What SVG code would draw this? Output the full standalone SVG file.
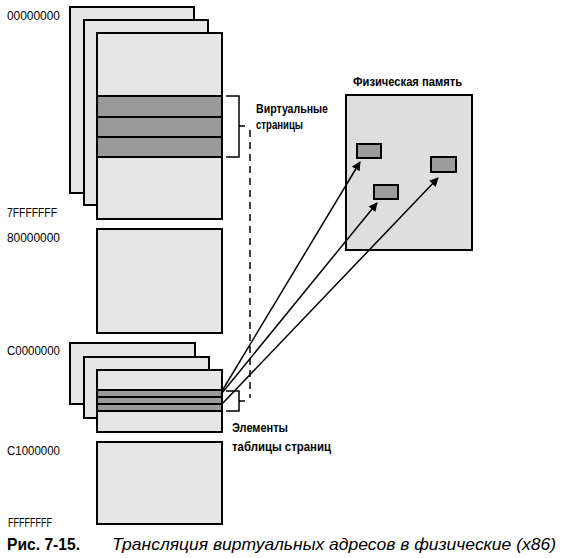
<svg xmlns="http://www.w3.org/2000/svg" width="570" height="558" viewBox="0 0 570 558">
<style>
.page{fill:#e6e6e6;stroke:#000;stroke-width:2}
.band{fill:#9a9a9a;stroke:#000;stroke-width:2}
.phys{fill:#dedede;stroke:#000;stroke-width:2}
.frame{fill:#9c9c9c;stroke:#000;stroke-width:2}
.br{fill:none;stroke:#000;stroke-width:1.5}
.addr{font-family:"Liberation Sans",Arial,sans-serif;font-size:13px;fill:#000}
.lbl{font-family:"Liberation Sans",Arial,sans-serif;font-size:13px;font-weight:bold;fill:#000}
.arrow{stroke:#000;stroke-width:1.5;fill:none;marker-end:url(#ah)}
</style>
<defs>
<marker id="ah" viewBox="0 0 10 10" refX="9" refY="5" markerWidth="6" markerHeight="6" orient="auto" markerUnits="strokeWidth">
<path d="M0,0 L10,5 L0,10 z" fill="#000"/>
</marker>
</defs>
<rect width="570" height="558" fill="#fff"/>
<g id="addr-labels">
<text class="addr" x="7" y="20" textLength="53" lengthAdjust="spacingAndGlyphs">00000000</text>
<text class="addr" x="7" y="217" textLength="50" lengthAdjust="spacingAndGlyphs">7FFFFFFF</text>
<text class="addr" x="7" y="242" textLength="53" lengthAdjust="spacingAndGlyphs">80000000</text>
<text class="addr" x="7" y="355" textLength="53" lengthAdjust="spacingAndGlyphs">C0000000</text>
<text class="addr" x="7" y="455" textLength="53" lengthAdjust="spacingAndGlyphs">C1000000</text>
<text class="addr" x="8" y="527" textLength="44" lengthAdjust="spacingAndGlyphs">FFFFFFFF</text>
</g>
<g id="user-space">
<rect class="page" x="70" y="7" width="124" height="186"/>
<rect class="page" x="84" y="20" width="124" height="185"/>
<rect class="page" x="97" y="33" width="125" height="186"/>
<rect class="band" x="97" y="96" width="125" height="21"/>
<rect class="band" x="97" y="117" width="125" height="20"/>
<rect class="band" x="97" y="137" width="125" height="20"/>
</g>
<g id="system-space">
<rect class="page" x="97" y="229" width="125" height="104"/>
</g>
<g id="page-tables">
<rect class="page" x="70" y="343" width="125" height="61"/>
<rect class="page" x="84" y="357" width="125" height="61"/>
<rect class="page" x="97" y="370" width="125" height="62"/>
<rect class="band" x="97" y="390" width="125" height="7"/>
<rect class="band" x="97" y="397" width="125" height="7"/>
<rect class="band" x="97" y="404" width="125" height="7"/>
</g>
<g id="system-space-2">
<rect class="page" x="97" y="442" width="125" height="82"/>
</g>
<g id="virtual-pages-label">
<path class="br" d="M226,96 H239 V157 H226 M239,126 H245"/>
<text class="lbl" x="256" y="113" textLength="72" lengthAdjust="spacingAndGlyphs">Виртуальные</text>
<text class="lbl" x="256" y="129" textLength="47" lengthAdjust="spacingAndGlyphs">страницы</text>
</g>
<g id="pte-label">
<path class="br" d="M226,391 H239 V411 H226 M239,401 H245"/>
<text class="lbl" x="232" y="432" textLength="56" lengthAdjust="spacingAndGlyphs">Элементы</text>
<text class="lbl" x="232" y="451" textLength="99" lengthAdjust="spacingAndGlyphs">таблицы страниц</text>
</g>
<g id="physical-memory">
<text class="lbl" x="353" y="86" textLength="109" lengthAdjust="spacingAndGlyphs">Физическая память</text>
<rect class="phys" x="346" y="95" width="126" height="155"/>
<rect class="frame" x="357" y="144" width="24" height="14"/>
<rect class="frame" x="374" y="185" width="24" height="14"/>
<rect class="frame" x="431" y="157" width="25" height="15"/>
</g>
<g id="connectors">
<line x1="250" y1="130" x2="250" y2="398" stroke="#000" stroke-width="1.5" stroke-dasharray="7,5"/>
<line class="arrow" x1="222" y1="391" x2="360" y2="162"/>
<line class="arrow" x1="222" y1="393" x2="377" y2="203"/>
<line class="arrow" x1="222" y1="404" x2="438" y2="178"/>
</g>
<g id="caption">
<text x="7" y="550" font-family="'Liberation Sans',Arial,sans-serif" font-size="17" font-weight="bold" textLength="73" lengthAdjust="spacingAndGlyphs">Рис. 7-15.</text>
<text x="112" y="550" font-family="'Liberation Sans',Arial,sans-serif" font-size="17" font-style="italic" textLength="444" lengthAdjust="spacingAndGlyphs">Трансляция виртуальных адресов в физические (x86)</text>
</g>
</svg>
